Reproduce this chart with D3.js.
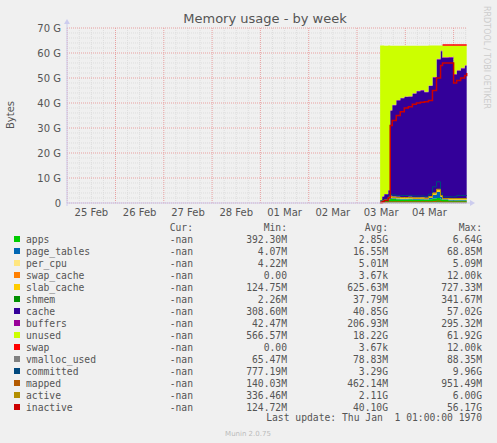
<!DOCTYPE html>
<html><head><meta charset="utf-8">
<script src="https://cdn.jsdelivr.net/npm/d3@7/dist/d3.min.js"></script>
<style>body{margin:0;background:#f0f0f0}svg{display:block}</style></head>
<body><svg id="c" width="497" height="443"></svg>
<script>
// hours relative to 03 Mar 00:00
const hours = [11.5,12.5,13.5,15.5,16.5,17.5,19.5,21.5,23.5,25.5,27.5,29.5,31.5,33.5,35.5,37.5,39.5,41.5,42.5,45.5,47.5,48,49.5,51.5,53.5,54.5];
const apps        = [0.3,0.6,0.8,1.5,1.8,1.6,1.5,1.4,1.4,1.5,1.3,1.3,1.4,1.2,1.5,1.8,2.0,1.5,1.2,1.0,1.0,1.0,1.0,1.0,1.0,1.0];
const page_tables = [0.05,0.1,0.2,0.3,0.3,0.3,0.3,0.3,0.3,0.3,0.3,0.3,0.3,0.3,0.6,1.5,2.5,1.0,0.3,0.3,0.3,0.3,0.3,0.3,0.3,0.3];
const per_cpu     = [0.01,0.01,0.01,0.01,0.01,0.01,0.01,0.01,0.01,0.01,0.01,0.01,0.01,0.01,0.01,0.01,0.01,0.01,0.01,0.01,0.01,0.01,0.01,0.01,0.01,0.01];
const swap_cache  = [0,0,0,0,0,0,0,0,0,0,0,0,0,0,0,0,0,0,0,0,0,0,0,0,0,0];
const slab_cache  = [0.2,0.4,0.5,0.7,0.8,0.7,0.7,0.7,0.7,0.7,0.6,0.6,0.6,0.6,0.7,0.8,0.9,0.7,0.5,0.5,0.5,0.5,0.5,0.5,0.5,0.5];
const shmem       = [0.02,0.03,0.03,0.04,0.04,0.04,0.04,0.04,0.04,0.04,0.04,0.04,0.04,0.04,0.04,0.04,0.04,0.04,0.04,0.04,0.04,0.04,0.04,0.04,0.04,0.04];
const cache       = [0.4,1.5,2.0,2.5,34,36.5,38.5,39.5,40,40,41.5,42.5,42.7,42.2,44,46,52,57.5,56,56.3,56.5,49.5,51,52,53,53.5];
const buffers     = [0.05,0.1,0.1,0.15,0.2,0.2,0.2,0.2,0.2,0.2,0.2,0.2,0.2,0.2,0.2,0.25,0.25,0.25,0.25,0.25,0.25,0.25,0.25,0.25,0.25,0.25];
const unused      = [62,60.3,59.3,57.8,25.8,23.6,21.7,20.8,20.3,20.2,19,18,17.7,18.4,16,12.6,5.3,2.0,4.7,4.6,4.4,11.4,9.9,8.9,7.9,7.4];
const swap        = [0,0,0,0,0,0,0,0,0,0,0,0,0,0,0,0,0,0,0.2,0.2,0.2,0.2,0.2,0.2,0.2,0.2];
const vmalloc_used= [0.07,0.07,0.08,0.08,0.08,0.08,0.08,0.08,0.08,0.08,0.08,0.08,0.08,0.08,0.08,0.08,0.08,0.08,0.08,0.08,0.08,0.08,0.08,0.08,0.08,0.08];
const committed   = [0.8,1.2,1.5,3.0,3.5,3.2,3.0,3.0,3.0,3.0,2.8,2.8,2.8,2.6,3.5,6.5,8.5,4.0,2.5,2.5,2.5,2.5,3.0,3.0,3.0,3.0];
const mapped      = [0.14,0.2,0.3,0.45,0.5,0.5,0.5,0.5,0.5,0.5,0.5,0.5,0.5,0.5,0.5,0.6,0.8,0.5,0.4,0.4,0.4,0.4,0.4,0.4,0.4,0.4];
const active      = [0.34,0.8,1.2,2.2,2.5,2.3,2.2,2.2,2.2,2.2,2.0,2.0,2.0,1.9,2.5,4.0,5.5,3.0,1.8,1.8,1.8,1.8,1.8,1.8,1.8,1.8];
const inactive    = [0.12,0.5,1.0,2.0,31,33,35,36.5,38,38.5,39.5,40,40.3,40.5,41,45,50,55,56,56,56,48,49,50,51,52];
const yTicks = [0,10,20,30,40,50,60,70];
const dayLabels = ["25 Feb","26 Feb","27 Feb","28 Feb","01 Mar","02 Mar","03 Mar","04 Mar"];
const dayOffsets = [-6,-5,-4,-3,-2,-1,0,1];

const stackNames=["apps","page_tables","per_cpu","swap_cache","slab_cache","shmem","cache","buffers","unused","swap"];
const stackData={apps,page_tables,per_cpu,swap_cache,slab_cache,shmem,cache,buffers,unused,swap};
const lineNames=["vmalloc_used","committed","mapped","active","inactive"];
const lineData={vmalloc_used,committed,mapped,active,inactive};
const colors={apps:"#00CC00",page_tables:"#0066B3",per_cpu:"#FFE680",swap_cache:"#FF8000",slab_cache:"#FFCC00",shmem:"#008F00",cache:"#330099",buffers:"#990099",unused:"#CCFF00",swap:"#FF0000",vmalloc_used:"#808080",committed:"#00487D",mapped:"#B35A00",active:"#B38F00",inactive:"#CC0000"};
const legendNames=[...stackNames,...lineNames];
const mins=["392.30M","4.07M","4.22M","0.00","124.75M","2.26M","308.60M","42.47M","566.57M","0.00","65.47M","777.19M","140.03M","336.46M","124.72M"];
const avgs=["2.85G","16.55M","5.01M","3.67k","625.63M","37.79M","40.85G","206.93M","18.22G","3.67k","78.83M","3.29G","462.14M","2.11G","40.10G"];
const maxs=["6.64G","68.85M","5.09M","12.00k","727.33M","341.67M","57.02G","295.32M","61.92G","12.00k","88.35M","9.96G","951.49M","6.00G","56.17G"];

const svg=d3.select("#c");
const L=67,R=466,T=28,B=203;
const pxh=2.0125, x0=357;
const x=d3.scaleLinear().domain([-(x0-L)/pxh,(R-x0)/pxh]).range([L,R]);
const y=d3.scaleLinear().domain([0,70]).range([B,T]);
const g=svg.append("g");
for(let h=Math.ceil(x.domain()[0]/6)*6; h<=x.domain()[1]; h+=6){ if(h%24!==0) g.append("line").attr("x1",x(h)).attr("x2",x(h)).attr("y1",T).attr("y2",B).attr("stroke","#ddd").attr("stroke-dasharray","1,1");}
for(let v=0;v<=70;v+=2){ if(v%10) g.append("line").attr("x1",L).attr("x2",R).attr("y1",y(v)).attr("y2",y(v)).attr("stroke","#ddd").attr("stroke-dasharray","1,1");}
yTicks.forEach(v=>g.append("line").attr("x1",L).attr("x2",R).attr("y1",y(v)).attr("y2",y(v)).attr("stroke","#e8a0a0").attr("stroke-dasharray","1,1"));
[-6,-5,-4,-3,-2,-1,0,1,2].forEach(d=>g.append("line").attr("x1",x(d*24)).attr("x2",x(d*24)).attr("y1",T).attr("y2",B).attr("stroke","#e8a0a0").attr("stroke-dasharray","1,1"));
const rows=hours.map((h,i)=>{const o={h};stackNames.forEach(n=>o[n]=stackData[n][i]);return o;});
const series=d3.stack().keys(stackNames)(rows);
const area=d3.area().x(d=>x(d.data.h)).y0(d=>y(d[0])).y1(d=>y(d[1])).curve(d3.curveStepAfter);
series.forEach(s=>{ if(s.key==="swap") return; g.append("path").attr("d",area(s)).attr("fill",colors[s.key]);});
const swapS=series.find(s=>s.key==="swap").filter(d=>d.data.swap>0);
g.append("path").attr("d",d3.line().x(d=>x(d.data.h)).y(d=>y(d[1])).curve(d3.curveStepAfter)(swapS)).attr("stroke",colors.swap).attr("stroke-width",1.5).attr("fill","none");
lineNames.forEach(n=>{
 g.append("path").attr("d",d3.line().x((d,i)=>x(hours[i])).y(d=>y(d)).curve(d3.curveStepAfter)(lineData[n])).attr("stroke",colors[n]).attr("stroke-width",n==="inactive"?1.5:1).attr("fill","none");
});
g.append("line").attr("x1",L).attr("x2",R+4).attr("y1",B).attr("y2",B).attr("stroke","#ccccee");
g.append("line").attr("x1",L).attr("x2",L).attr("y1",T-6).attr("y2",B+3).attr("stroke","#ccccee");
g.append("path").attr("d",`M${R+4},${B-3}L${R+9},${B}L${R+4},${B+3}Z`).attr("fill","#ccccee");
g.append("path").attr("d",`M${L-3},${T-4}L${L},${T-9}L${L+3},${T-4}Z`).attr("fill","#ccccee");
const font="DejaVu Sans";
yTicks.forEach(v=>svg.append("text").attr("x",L-6).attr("y",y(v)+4).attr("text-anchor","end").attr("font-family",font).attr("font-size",10).attr("fill","#555").text(v===0?"0":v+" G"));
dayLabels.forEach((t,i)=>svg.append("text").attr("x",x(dayOffsets[i]*24+12)).attr("y",B+13).attr("text-anchor","middle").attr("font-family",font).attr("font-size",10).attr("fill","#555").text(t));
svg.append("text").attr("x",265).attr("y",23).attr("text-anchor","middle").attr("font-family",font).attr("font-size",13).attr("fill","#555").text("Memory usage - by week");
svg.append("text").attr("transform","translate(14,115) rotate(-90)").attr("text-anchor","middle").attr("font-family",font).attr("font-size",10).attr("fill","#555").text("Bytes");
svg.append("text").attr("transform","translate(484,6) rotate(90)").attr("font-family",font).attr("font-size",8).attr("fill","#ccc").text("RRDTOOL / TOBI OETIKER");
const mono="DejaVu Sans Mono", fs=9.7, lc="#555";
[["Cur:",193],["Min:",287],["Avg:",388],["Max:",482]].forEach(([t,xx])=>svg.append("text").attr("x",xx).attr("y",231).attr("text-anchor","end").attr("font-family",mono).attr("font-size",fs).attr("fill",lc).text(t));
legendNames.forEach((n,i)=>{
 const yy=243+i*12;
 svg.append("rect").attr("x",14).attr("y",yy-7).attr("width",6).attr("height",6).attr("fill",colors[n]);
 svg.append("text").attr("x",26).attr("y",yy).attr("font-family",mono).attr("font-size",fs).attr("fill",lc).text(n);
 [["-nan",193],[mins[i],287],[avgs[i],388],[maxs[i],482]].forEach(([t,xx])=>svg.append("text").attr("x",xx).attr("y",yy).attr("text-anchor","end").attr("font-family",mono).attr("font-size",fs).attr("fill",lc).text(t));
});
svg.append("text").attr("x",482).attr("y",421).attr("text-anchor","end").attr("font-family",mono).attr("font-size",fs).attr("fill",lc).style("white-space","pre").text("Last update: Thu Jan  1 01:00:00 1970");
svg.append("text").attr("x",248).attr("y",436).attr("text-anchor","middle").attr("font-family",font).attr("font-size",7).attr("fill","#bbb").text("Munin 2.0.75");
</script></body></html>
